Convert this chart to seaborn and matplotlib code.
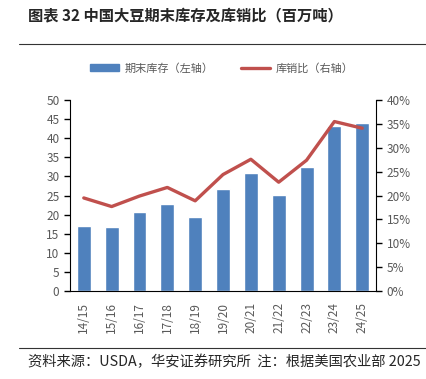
import pandas as pd
import matplotlib.pyplot as plt
import seaborn as sns
from matplotlib.lines import Line2D
from matplotlib.patches import Patch
from matplotlib.ticker import FuncFormatter, MultipleLocator

# data
years = ['14/15', '15/16', '16/17', '17/18', '18/19', '19/20',
         '20/21', '21/22', '22/23', '23/24', '24/25']
stock = [17.0, 16.8, 20.6, 22.9, 19.4, 26.7, 31.0, 25.1, 32.4, 43.3, 44.0]
ratio = [19.5, 17.7, 19.9, 21.7, 18.9, 24.4, 27.6, 22.8, 27.4, 35.5, 34.1]

df = pd.DataFrame({'year': years, 'stock': stock, 'ratio': ratio})
df['pos'] = range(len(df))

sns.set_style('white')
plt.rcParams['font.family'] = ['Noto Sans CJK SC', 'DejaVu Sans']

blue = '#4F81BD'
red = '#C0504D'
gray = '#595959'

fig = plt.figure(figsize=(4.26, 3.79), dpi=100)
ax = fig.add_axes([0.164, 0.232, 0.719, 0.504])

sns.barplot(data=df, x='year', y='stock', color=blue, width=0.5,
            saturation=1, ax=ax)
ax.set_ylim(0, 50)
ax.set_xlim(-0.5, len(years) - 0.5)
ax.yaxis.set_major_locator(MultipleLocator(5))
ax.set_xlabel('')
ax.set_ylabel('')

ax2 = ax.twinx()
sns.lineplot(data=df, x='pos', y='ratio', color=red, linewidth=2.4, ax=ax2)
ax2.set_ylim(0, 40)
ax2.yaxis.set_major_locator(MultipleLocator(5))
ax2.yaxis.set_major_formatter(FuncFormatter(lambda v, p: f'{v:.0f}%'))
ax2.set_ylabel('')
ax2.set_xlabel('')
ax2.set_xlim(-0.5, len(years) - 0.5)

# spines and ticks
for a in (ax, ax2):
    a.spines['top'].set_visible(False)
    a.spines['left'].set_color('black')
    a.spines['right'].set_color('black')
    a.spines['bottom'].set_color('black')
ax.spines['right'].set_visible(False)
ax2.spines['left'].set_visible(False)
ax2.spines['bottom'].set_visible(False)

ax.set_xticks([p for p in range(len(years))])
ax.set_xticklabels(years, rotation=90)
ax.tick_params(axis='x', length=0, labelsize=8.5, labelcolor=gray, pad=8)
ax.set_xticks([p - 0.5 for p in range(len(years) + 1)], minor=True)
ax.tick_params(axis='x', which='minor', length=4, width=1, color='black',
               direction='out')
ax.tick_params(axis='y', length=4, width=1, color='black', direction='out',
               left=True, labelsize=8.5, labelcolor=gray)
ax2.tick_params(axis='y', length=4, width=1, color='black', direction='out',
                right=True, labelsize=8.5, labelcolor=gray)

# legend
handles = [Patch(color=blue), Line2D([0], [0], color=red, lw=2.4)]
fig.legend(handles, ['期末库存（左轴）', '库销比（右轴）'],
           loc='center', bbox_to_anchor=(0.52, 0.82), ncol=2, frameon=False,
           fontsize=8, labelcolor=gray, handlelength=2.6, handleheight=0.6,
           columnspacing=2.5, handletextpad=0.5)

# title and source
fig.text(0.066, 0.96, '图表 32 中国大豆期末库存及库销比（百万吨）',
         fontsize=11, fontweight='bold', ha='left', va='center')
fig.add_artist(Line2D([0.045, 1.0], [0.884, 0.884], color='#333333', lw=0.8))
fig.add_artist(Line2D([0.045, 1.0], [0.082, 0.082], color='#333333', lw=0.8))
fig.text(0.066, 0.045, '资料来源：USDA，华安证券研究所  注：根据美国农业部 2025',
         fontsize=10.3, ha='left', va='center')

fig.savefig('out.png', dpi=100)
